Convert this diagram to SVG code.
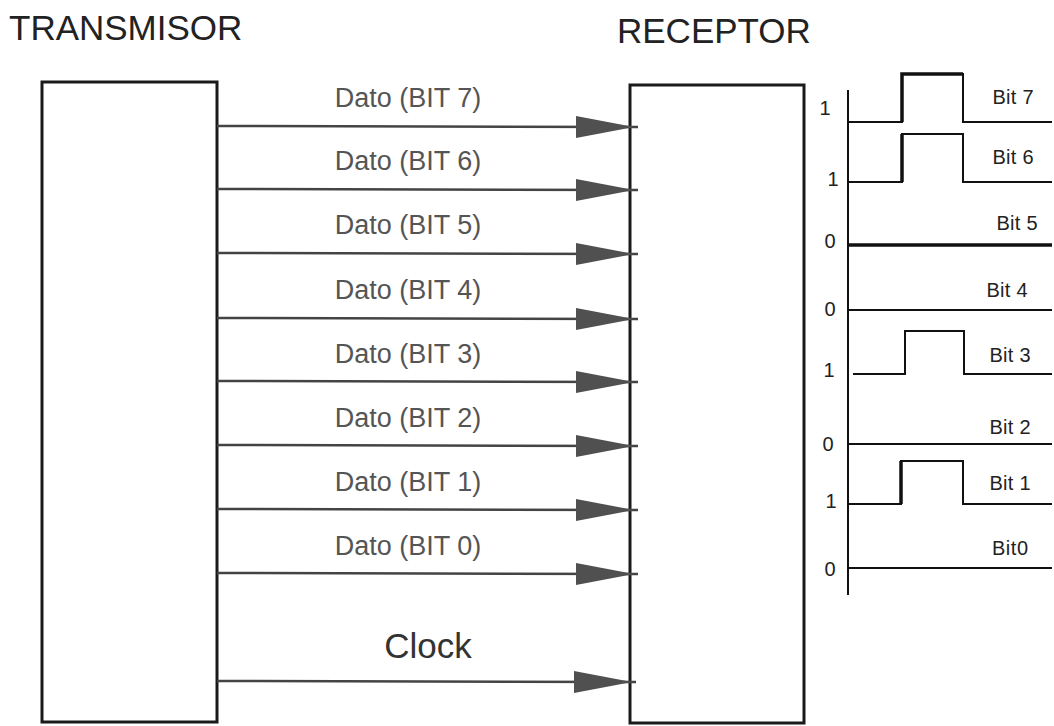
<svg xmlns="http://www.w3.org/2000/svg" width="1054" height="726" viewBox="0 0 1054 726">
<style>
.box{fill:#fff;stroke:#1a1a1a;stroke-width:3}
.title{font-family:"Liberation Sans",Arial,sans-serif;font-size:35px;fill:#222}
.lbl{font-family:"Liberation Sans",Arial,sans-serif;font-size:27px;fill:#555;text-anchor:middle}
.clk{font-family:"Liberation Sans",Arial,sans-serif;font-size:35px;fill:#333;text-anchor:middle}
.wire{stroke:#444;stroke-width:2.5;fill:none}
.head{fill:#505050}
.sig{stroke:#111;stroke-width:2;fill:none}
.sigb{stroke:#111;stroke-width:3.5;fill:none}
.lv{font-family:"Liberation Sans",Arial,sans-serif;font-size:20px;fill:#222;text-anchor:middle}
.bl{font-family:"Liberation Sans",Arial,sans-serif;font-size:20px;fill:#222;text-anchor:middle}
</style>
<defs>
<path id="ah" d="M0,0 L-58,-11 L-58,11 Z"/>
</defs>
<rect width="1054" height="726" fill="#fff"/>
<g id="transmisor">
<rect class="box" x="42" y="82" width="175" height="640"/>
<text class="title" x="9" y="40">TRANSMISOR</text>
</g>
<g id="receptor">
<rect class="box" x="630" y="85" width="174" height="638"/>
<text class="title" x="617" y="43">RECEPTOR</text>
</g>
<g id="connectors">
<line class="wire" x1="217" y1="126" x2="638" y2="127"/><use href="#ah" class="head" x="634" y="127"/>
<line class="wire" x1="217" y1="189" x2="638" y2="190"/><use href="#ah" class="head" x="634" y="190"/>
<line class="wire" x1="217" y1="253" x2="638" y2="254"/><use href="#ah" class="head" x="634" y="254"/>
<line class="wire" x1="217" y1="318" x2="638" y2="319"/><use href="#ah" class="head" x="634" y="319"/>
<line class="wire" x1="217" y1="381" x2="638" y2="382"/><use href="#ah" class="head" x="634" y="382"/>
<line class="wire" x1="217" y1="445" x2="638" y2="446"/><use href="#ah" class="head" x="634" y="446"/>
<line class="wire" x1="217" y1="509" x2="638" y2="510"/><use href="#ah" class="head" x="634" y="510"/>
<line class="wire" x1="217" y1="573" x2="638" y2="574"/><use href="#ah" class="head" x="634" y="574"/>
<line class="wire" x1="217" y1="681" x2="636" y2="682"/><use href="#ah" class="head" x="632" y="682"/>
<text class="lbl" x="408" y="107">Dato (BIT 7)</text>
<text class="lbl" x="408" y="170">Dato (BIT 6)</text>
<text class="lbl" x="408" y="234">Dato (BIT 5)</text>
<text class="lbl" x="408" y="299">Dato (BIT 4)</text>
<text class="lbl" x="408" y="363">Dato (BIT 3)</text>
<text class="lbl" x="408" y="427">Dato (BIT 2)</text>
<text class="lbl" x="408" y="491">Dato (BIT 1)</text>
<text class="lbl" x="408" y="555">Dato (BIT 0)</text>
<text class="clk" x="428" y="658">Clock</text>
</g>
<g id="timing">
<line class="sig" x1="848" y1="90" x2="848" y2="595"/>
<path class="sig" d="M848,122 H902 V74 H963 V122 H1052"/>
<path class="sigb" d="M902,122 V74 H963"/>
<path class="sig" d="M848,182 H902 V134 H963 V182 H1052"/>
<path class="sigb" d="M902,182 V134"/>
<line class="sigb" x1="848" y1="245" x2="1052" y2="245"/>
<line class="sig" x1="848" y1="310" x2="1052" y2="310"/>
<path class="sig" d="M853,374 H905 V331 H964 V374 H1052"/>
<line class="sig" x1="848" y1="444" x2="1052" y2="444"/>
<path class="sig" d="M848,504 H901 V461 H963 V504 H1052"/>
<path class="sigb" d="M901,504 V461"/>
<line class="sig" x1="848" y1="568" x2="1052" y2="568"/>
<text class="lv" x="825" y="115">1</text>
<text class="lv" x="833" y="186">1</text>
<text class="lv" x="830" y="248">0</text>
<text class="lv" x="830" y="316">0</text>
<text class="lv" x="829" y="377">1</text>
<text class="lv" x="828" y="451">0</text>
<text class="lv" x="831" y="508">1</text>
<text class="lv" x="830" y="576">0</text>
<text class="bl" x="1013" y="104" textLength="41">Bit 7</text>
<text class="bl" x="1013" y="164" textLength="41">Bit 6</text>
<text class="bl" x="1017" y="230" textLength="41">Bit 5</text>
<text class="bl" x="1007" y="297" textLength="41">Bit 4</text>
<text class="bl" x="1010" y="362" textLength="41">Bit 3</text>
<text class="bl" x="1010" y="434" textLength="41">Bit 2</text>
<text class="bl" x="1010" y="490" textLength="41">Bit 1</text>
<text class="bl" x="1010" y="555" textLength="36">Bit0</text>
</g>
</svg>
